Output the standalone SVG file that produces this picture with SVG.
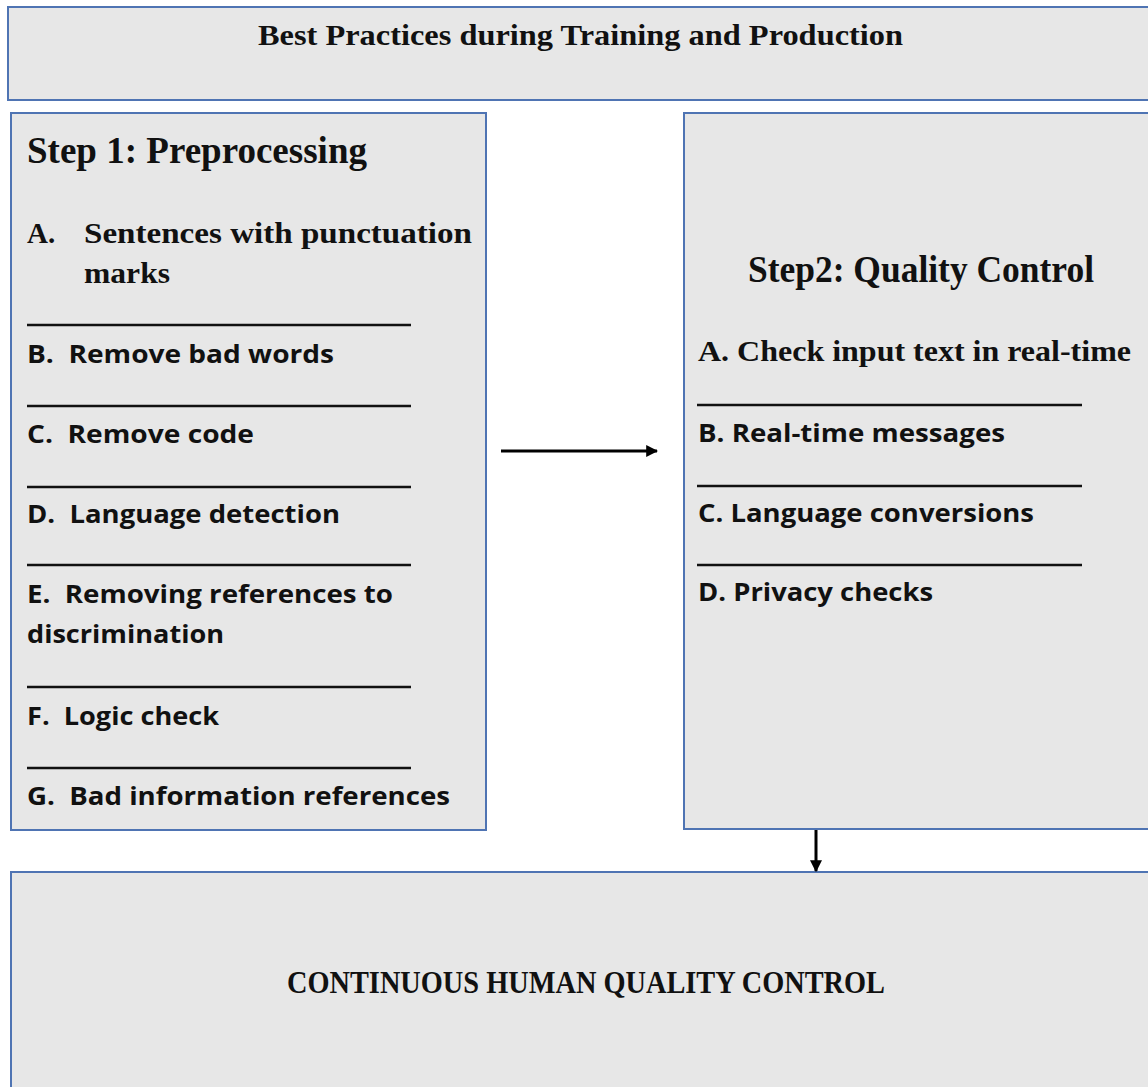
<svg xmlns="http://www.w3.org/2000/svg" width="1148" height="1087" viewBox="0 0 1148 1087">
<style>
.box{fill:#e7e7e7;stroke:#4f74b3;stroke-width:2}
.serif{font-family:"Liberation Serif","DejaVu Serif",serif;font-weight:700;fill:#111}
.sans{font-family:"Open Sans","Liberation Sans",sans-serif;font-weight:700;fill:#111;font-size:25px;white-space:pre}
.sep{stroke:#111;stroke-width:2.5}
.conn{stroke:#000;stroke-width:3;fill:none}
</style>
<defs>
<marker id="ah" viewBox="0 0 10 10" refX="9" refY="5" markerWidth="4" markerHeight="4" orient="auto" markerUnits="strokeWidth">
<path d="M0,0 L10,5 L0,10 z" fill="#000"/>
</marker>
</defs>
<rect width="1148" height="1087" fill="#fff"/>
<g id="title">
<rect class="box" x="8" y="7" width="1150" height="93"/>
<text class="serif" x="258" y="45" font-size="30" textLength="645" lengthAdjust="spacingAndGlyphs">Best Practices during Training and Production</text>
</g>
<g id="step1">
<rect class="box" x="11" y="113" width="475" height="717"/>
<text class="serif" x="27" y="163" font-size="37" textLength="340" lengthAdjust="spacingAndGlyphs">Step 1: Preprocessing</text>
<text class="serif" x="27" y="243" font-size="29">A.</text>
<text class="serif" x="84" y="243" font-size="29" textLength="388" lengthAdjust="spacingAndGlyphs">Sentences with punctuation</text>
<text class="serif" x="84" y="283" font-size="29" textLength="86" lengthAdjust="spacingAndGlyphs">marks</text>
<line class="sep" x1="27" y1="325" x2="411" y2="325"/>
<text class="sans" x="27" y="363" textLength="307" lengthAdjust="spacingAndGlyphs">B.  Remove bad words</text>
<line class="sep" x1="27" y1="406" x2="411" y2="406"/>
<text class="sans" x="27" y="443" textLength="227" lengthAdjust="spacingAndGlyphs">C.  Remove code</text>
<line class="sep" x1="27" y1="487" x2="411" y2="487"/>
<text class="sans" x="27" y="523" textLength="313" lengthAdjust="spacingAndGlyphs">D.  Language detection</text>
<line class="sep" x1="27" y1="565" x2="411" y2="565"/>
<text class="sans" x="27" y="603" textLength="366" lengthAdjust="spacingAndGlyphs">E.  Removing references to</text>
<text class="sans" x="27" y="643" textLength="197" lengthAdjust="spacingAndGlyphs">discrimination</text>
<line class="sep" x1="27" y1="687" x2="411" y2="687"/>
<text class="sans" x="27" y="725" textLength="192" lengthAdjust="spacingAndGlyphs">F.  Logic check</text>
<line class="sep" x1="27" y1="768" x2="411" y2="768"/>
<text class="sans" x="27" y="805" textLength="423" lengthAdjust="spacingAndGlyphs">G.  Bad information references</text>
</g>
<g id="step2">
<rect class="box" x="684" y="113" width="480" height="716"/>
<text class="serif" x="748" y="282" font-size="37" textLength="346" lengthAdjust="spacingAndGlyphs">Step2: Quality Control</text>
<text class="serif" x="698" y="361" font-size="29" textLength="433" lengthAdjust="spacingAndGlyphs">A. Check input text in real-time</text>
<line class="sep" x1="697" y1="405" x2="1082" y2="405"/>
<text class="sans" x="698" y="442" textLength="307" lengthAdjust="spacingAndGlyphs">B. Real-time messages</text>
<line class="sep" x1="697" y1="486" x2="1082" y2="486"/>
<text class="sans" x="698" y="522" textLength="336" lengthAdjust="spacingAndGlyphs">C. Language conversions</text>
<line class="sep" x1="697" y1="565" x2="1082" y2="565"/>
<text class="sans" x="698" y="601" textLength="235" lengthAdjust="spacingAndGlyphs">D. Privacy checks</text>
</g>
<g id="human-qc">
<rect class="box" x="11" y="872" width="1150" height="230"/>
<text class="serif" x="287" y="993" font-size="32" textLength="598" lengthAdjust="spacingAndGlyphs">CONTINUOUS HUMAN QUALITY CONTROL</text>
</g>
<g id="connectors">
<line class="conn" x1="501" y1="451" x2="657" y2="451" marker-end="url(#ah)"/>
<line class="conn" x1="816" y1="830" x2="816" y2="871" marker-end="url(#ah)"/>
</g>
</svg>
